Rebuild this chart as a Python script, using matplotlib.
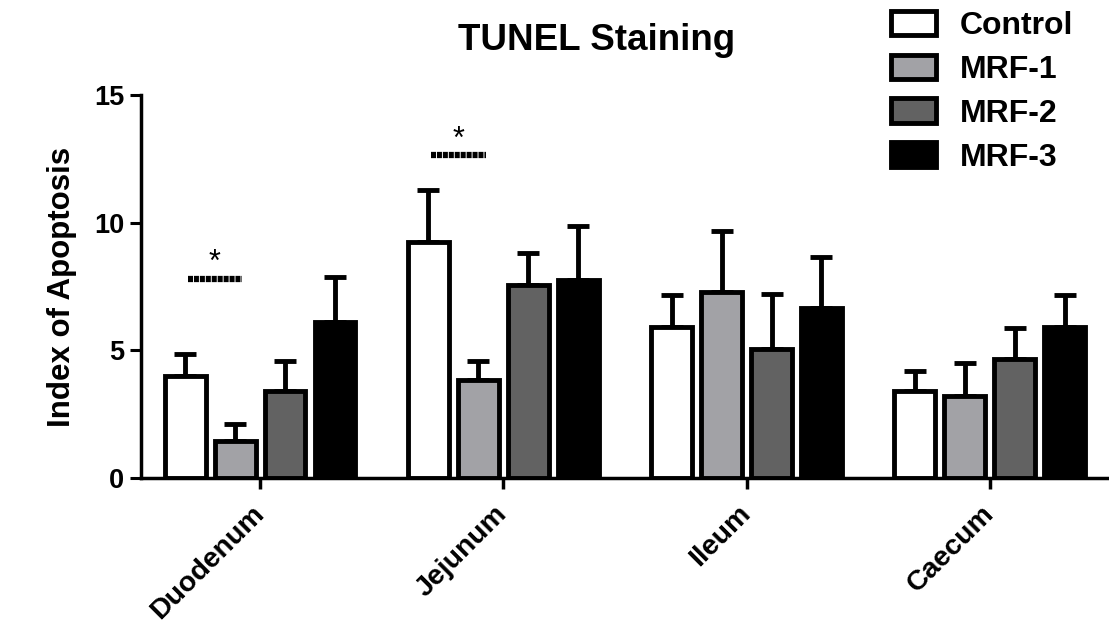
import matplotlib.pyplot as plt
import numpy as np

plt.rcParams['font.family'] = ['Liberation Sans', 'DejaVu Sans']
plt.rcParams['font.weight'] = 'bold'

# data
regions = ["Duodenum", "Jejunum", "Ileum", "Caecum"]
groups = ["Control", "MRF-1", "MRF-2", "MRF-3"]
colors = ["#ffffff", "#a2a2a6", "#626262", "#000000"]

control = [4.0, 9.23, 5.93, 3.42]
mrf1 = [1.46, 3.84, 7.27, 3.22]
mrf2 = [3.40, 7.56, 5.05, 4.65]
mrf3 = [6.10, 7.76, 6.65, 5.93]

control_err = [0.86, 2.05, 1.24, 0.78]
mrf1_err = [0.64, 0.76, 2.40, 1.28]
mrf2_err = [1.18, 1.24, 2.15, 1.21]
mrf3_err = [1.79, 2.09, 2.02, 1.24]

# significance marks: (region index, bar a, bar b, height)
sig = [(0, 0, 1, 7.8), (1, 0, 1, 12.65)]

means = [control, mrf1, mrf2, mrf3]
errs = [control_err, mrf1_err, mrf2_err, mrf3_err]

fig = plt.figure(figsize=(11.09, 6.29), dpi=100)
ax = fig.add_axes([0.127, 0.240, 0.873, 0.609])

x = np.arange(len(regions))
pitch = 0.2053
width = 0.168
bars = []
for i in range(4):
    xs = x + (i - 1.5) * pitch
    b = ax.bar(xs, means[i], width=width, color=colors[i], edgecolor="black",
               linewidth=3.5, label=groups[i], zorder=2)
    bars.append(b)
    ax.errorbar(xs, means[i], yerr=[np.zeros(4), errs[i]], fmt="none",
                ecolor="black", elinewidth=3.5, capsize=8, capthick=3.5, zorder=1)

for g, a, b, h in sig:
    x0 = g + (a - 1.5) * pitch
    x1 = g + (b - 1.5) * pitch
    ax.plot([x0 + 0.01, x1 + 0.03], [h, h], color="black", lw=4.5,
            dashes=(0.8, 0.15), dash_capstyle="butt")
    ax.text((x0 + x1) / 2 + 0.02, h + 0.02, "*", ha="center", va="bottom",
            fontsize=22, fontweight="normal")

ax.set_xlim(-0.49, 3.49)
ax.set_ylim(0, 15)
ax.set_yticks([0, 5, 10, 15])
ax.set_xticks(x)
ax.set_xticklabels(regions, rotation=45, ha="right", va="center",
                   rotation_mode="anchor", fontsize=20.5, fontweight="bold")
ax.tick_params(axis="y", labelsize=19.5, width=2.2, length=8, pad=4)
ax.tick_params(axis="x", width=2.5, length=8, pad=15)
for lab in ax.get_yticklabels():
    lab.set_fontweight("bold")

ax.spines["top"].set_visible(False)
ax.spines["right"].set_visible(False)
ax.spines["left"].set_linewidth(2.5)
ax.spines["bottom"].set_linewidth(2.5)

ax.set_ylabel("Index of Apoptosis", fontsize=22.5, fontweight="bold")
ax.yaxis.set_label_coords(-0.066, 0.5)

fig.text(597 / 1109, 1 - 41 / 629, "TUNEL Staining", ha="center", va="center",
         fontsize=26.5, fontweight="bold")

fig.legend(handles=bars, loc="upper left", bbox_to_anchor=(891 / 1109, 1 - 11 / 629),
           frameon=False, handlelength=1.4, handleheight=0.8,
           handletextpad=0.75, labelspacing=0.42, borderpad=0, borderaxespad=0,
           prop={"weight": "bold", "size": 23})

fig.savefig("out.png", dpi=100)
